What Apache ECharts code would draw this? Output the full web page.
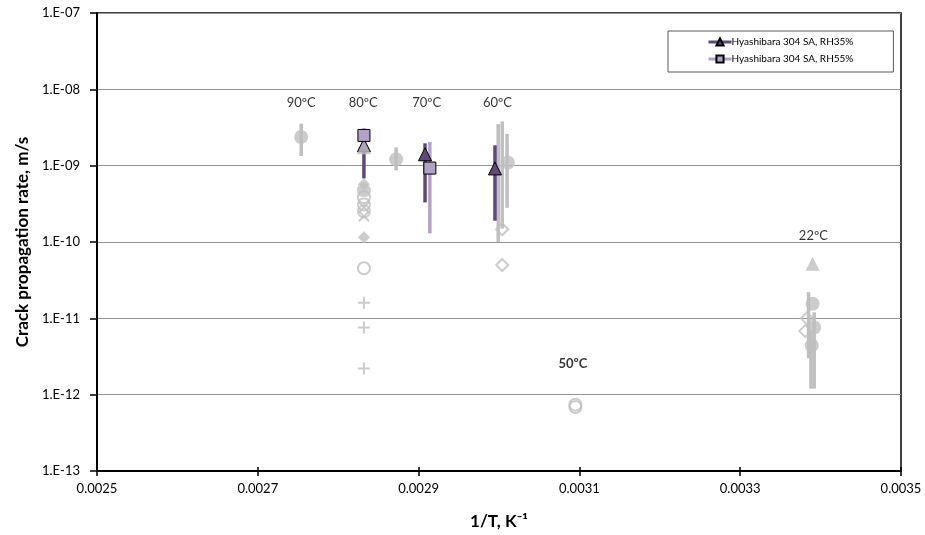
<!DOCTYPE html>
<html>
<head>
<meta charset="utf-8">
<script src="https://cdn.jsdelivr.net/npm/echarts@6/dist/echarts.min.js"></script>
<style>
  html, body { margin: 0; padding: 0; background: #fff; }
  #chart { width: 925px; height: 535px; }
</style>
</head>
<body>
<div id="chart"></div>
<script>
// x = 1/T (K^-1), y = crack propagation rate (m/s)
var xTicks = [0.0025, 0.0027, 0.0029, 0.0031, 0.0033, 0.0035];

// reference data (grey)
var grayCircleFilled = [[0.002754, 2.37e-9], [0.002872, 1.21e-9], [0.003011, 1.1e-9],
    [0.002832, 4.75e-10], [0.003390, 1.55e-11], [0.003392, 7.6e-12], [0.003389, 4.4e-12]];
var grayCircleOpen = [[0.002832, 3.85e-10], [0.002832, 3.1e-10], [0.002832, 2.52e-10],
    [0.002832, 4.53e-11], [0.003095, 7.4e-13], [0.003095, 6.9e-13]];
var grayDiamondFilled = [[0.002832, 5.7e-10], [0.002832, 1.15e-10]];
var grayDiamondOpen = [[0.003004, 1.47e-10], [0.003004, 5.0e-11], [0.003383, 1.0e-11], [0.003381, 6.8e-12]];
var grayCross = [[0.002832, 2.84e-10], [0.002832, 2.17e-10]];
var grayPlus = [[0.002832, 1.6e-11], [0.002832, 7.6e-12], [0.002832, 2.2e-12]];
var grayTriangle = [[0.002832, 1.74e-9], [0.003390, 5.2e-11]];
// [x, low, high]
var grayErr = [[0.002754, 1.34e-9, 3.55e-9], [0.002872, 8.7e-10, 1.74e-9],
    [0.002999, 1.0e-10, 3.5e-9], [0.003004, 1.5e-10, 3.8e-9], [0.003010, 2.8e-10, 2.6e-9],
    [0.003385, 3e-12, 2.2e-11], [0.003388, 1.2e-12, 7e-12], [0.003392, 1.2e-12, 1.2e-11]];

// Hyashibara 304 SA
var rh35 = [[0.002832, 1.85e-9], [0.002908, 1.41e-9], [0.002995, 9.2e-10]];
var rh35Err = [[0.002832, 6.8e-10, 2.1e-9], [0.002908, 3.3e-10, 1.96e-9], [0.002995, 1.9e-10, 1.85e-9]];
var rh55 = [[0.002832, 2.49e-9], [0.002914, 9.3e-10]];
var rh55Err = [[0.002832, 1.5e-9, 3.1e-9], [0.002914, 1.3e-10, 2.04e-9]];

// temperature annotations [text, x, y, bold]
var tempLabels = [['90ºC', 0.002754, 6.7e-9, false], ['80ºC', 0.002831, 6.7e-9, false],
    ['70ºC', 0.002910, 6.7e-9, false], ['60ºC', 0.002998, 6.7e-9, false],
    ['50ºC', 0.003092, 2.5e-12, true], ['22ºC', 0.003391, 1.19e-10, false]];

var GRAY = '#bfbfbf', DARK = '#5f497a', LIGHT = '#b3a2c7';
var FONT = 'Lato';

function errBars(name, data, color, z) {
    return {
        name: name, type: 'custom', z: z, silent: true,
        encode: { x: 0, y: [1, 2] },
        data: data,
        renderItem: function (params, api) {
            var p1 = api.coord([api.value(0), api.value(1)]);
            var p2 = api.coord([api.value(0), api.value(2)]);
            return {
                type: 'line',
                shape: { x1: p1[0], y1: p1[1], x2: p2[0], y2: p2[1] },
                style: { stroke: color, lineWidth: 3.5 }
            };
        }
    };
}

function grayScatter(data, symbol, size, filled) {
    return {
        type: 'scatter', z: 4, silent: true, data: data,
        symbol: symbol, symbolSize: size,
        itemStyle: filled ? { color: GRAY } : { color: 'rgba(0,0,0,0)', borderColor: GRAY, borderWidth: 2 }
    };
}

var chart = echarts.init(document.getElementById('chart'));
var option = {
    animation: false,
    textStyle: { fontFamily: FONT },
    grid: { left: 97, right: 24, top: 13, bottom: 64, show: true, borderColor: '#000', borderWidth: 1.5 },
    legend: {
        data: [
            { name: 'Hyashibara 304 SA, RH35%' },
            { name: 'Hyashibara 304 SA, RH55%' }
        ],
        orient: 'vertical', left: 668, top: 31,
        padding: [6, 40, 8, 39],
        itemWidth: 23, itemHeight: 9, itemGap: 7,
        borderColor: '#595959', borderWidth: 1,
        backgroundColor: '#fff',
        lineStyle: { opacity: 1, width: 3 },
        textStyle: { fontFamily: FONT, fontSize: 10, color: '#000', padding: [0, 0, 0, -5] }
    },
    xAxis: [{
        type: 'value', min: 0.0025, max: 0.0035, interval: 0.0002,
        name: '1/T, K⁻¹', nameLocation: 'middle', nameGap: 42,
        nameTextStyle: { fontFamily: FONT, fontSize: 17, fontWeight: 'bold', color: '#000' },
        axisLine: { onZero: false, lineStyle: { color: '#000', width: 2 } },
        axisTick: { length: 5, lineStyle: { color: '#000', width: 1.5 } },
        axisLabel: { color: '#000', fontSize: 13, margin: 11,
            formatter: function (v) { return v.toFixed(4); } },
        splitLine: { show: false }
    }, {
        type: 'value', min: 0.0025, max: 0.0035, interval: 0.0002, position: 'bottom',
        axisLine: { show: false },
        axisTick: { inside: true, length: 4, lineStyle: { color: '#000', width: 1.5 } },
        axisLabel: { show: false },
        splitLine: { show: false }
    }],
    yAxis: [{
        type: 'log', logBase: 10, min: 1e-13, max: 1e-7,
        name: 'Crack propagation rate, m/s', nameLocation: 'middle', nameGap: 66,
        nameTextStyle: { fontFamily: FONT, fontSize: 17, fontWeight: 'bold', color: '#000' },
        axisLine: { lineStyle: { color: '#000', width: 2 } },
        axisTick: { length: 7, lineStyle: { color: '#000', width: 1.5 } },
        axisLabel: { color: '#000', fontSize: 13, margin: 17,
            formatter: function (v) {
                var e = Math.round(Math.log10(v));
                return '1.E-' + (e > -10 ? '0' : '') + Math.abs(e);
            } },
        splitLine: { lineStyle: { color: '#969696', width: 1 } }
    }],
    series: [
        errBars('grayErr', grayErr, GRAY, 1),
        errBars('rh35Err', rh35Err, DARK, 2),
        errBars('rh55Err', rh55Err, LIGHT, 2),
        {
            name: 'Hyashibara 304 SA, RH35%', type: 'line', z: 3, data: rh35,
            symbol: 'triangle', symbolSize: 13, showSymbol: true,
            lineStyle: { color: DARK, width: 3, opacity: 0 },
            itemStyle: { color: DARK, borderColor: '#000', borderWidth: 1 }
        },
        grayScatter(grayCircleFilled, 'circle', 14, true),
        grayScatter(grayCircleOpen, 'circle', 12, false),
        grayScatter(grayDiamondFilled, 'diamond', 12, true),
        grayScatter(grayDiamondOpen, 'diamond', 12, false),
        grayScatter(grayCross, 'path://M0,0L10,10M10,0L0,10', 10, false),
        grayScatter(grayPlus, 'path://M5,0L5,10M0,5L10,5', 12, false),
        grayScatter(grayTriangle, 'triangle', 14, true),
        {
            name: 'Hyashibara 304 SA, RH55%', type: 'line', z: 5, data: rh55,
            symbol: 'rect', symbolSize: 12, showSymbol: true,
            lineStyle: { color: LIGHT, width: 3, opacity: 0 },
            itemStyle: { color: LIGHT, borderColor: '#000', borderWidth: 1 }
        },
        {
            type: 'scatter', z: 6, silent: true, symbolSize: 0,
            data: tempLabels.map(function (t) {
                return {
                    value: [t[1], t[2]],
                    label: { show: true, position: 'inside', formatter: t[0],
                        fontFamily: FONT, fontSize: 13, color: '#000',
                        fontWeight: t[3] ? 'bold' : 'normal' }
                };
            })
        }
    ]
};
chart.setOption(option);
</script>
</body>
</html>
